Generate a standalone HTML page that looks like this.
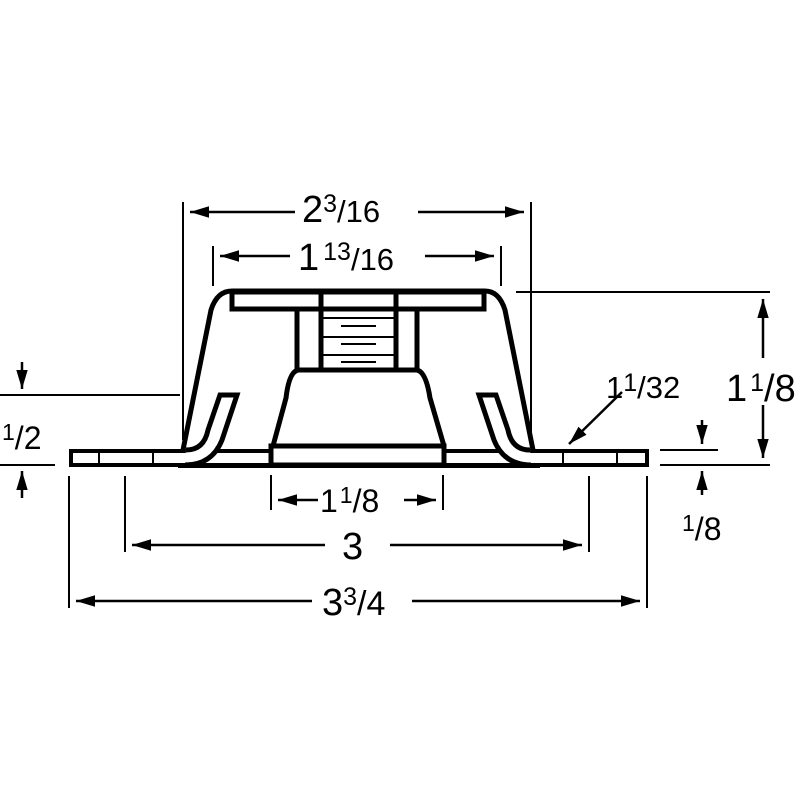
<!DOCTYPE html>
<html><head><style>body{margin:0;background:#fff}svg{display:block}text{font-family:"Liberation Sans",sans-serif;fill:#000}</style></head><body>
<svg width="800" height="800" viewBox="0 0 800 800" xmlns="http://www.w3.org/2000/svg">
<defs><marker id="a" viewBox="0 0 10 10" refX="10" refY="5" markerWidth="19" markerHeight="19" markerUnits="userSpaceOnUse" orient="auto-start-reverse"><path d="M0,2 L10,5 L0,8 Z" fill="#000"/></marker></defs>
<g fill="none" stroke="#000">
<rect x="71" y="451" width="576" height="14" stroke-width="4" fill="#fff"/>
<line x1="99" y1="451" x2="99" y2="465" stroke-width="2"/>
<line x1="153" y1="451" x2="153" y2="465" stroke-width="2"/>
<line x1="563" y1="451" x2="563" y2="465" stroke-width="2"/>
<line x1="617" y1="451" x2="617" y2="465" stroke-width="2"/>
<line x1="178" y1="466" x2="540" y2="466" stroke-width="4"/>
<path d="M183,450 L211,310 Q217,291 232,291 L485,291 Q499,291 505,310 L533,450" stroke-width="5" fill="none"/>
<path d="M186,450 Q204,450 208,430 L220,395 L237,395 L222,440 Q212,465 185,465" stroke-width="5" fill="#fff"/>
<path d="M530,450 Q512,450 508,430 L496,395 L479,395 L494,440 Q504,465 531,465" stroke-width="5" fill="#fff"/>
<rect x="232" y="292" width="252" height="17" stroke-width="5" fill="#fff"/>
<line x1="321" y1="292" x2="321" y2="370" stroke-width="5"/>
<line x1="396" y1="292" x2="396" y2="370" stroke-width="5"/>
<line x1="297" y1="309" x2="297" y2="370" stroke-width="5"/>
<line x1="417" y1="309" x2="417" y2="370" stroke-width="5"/>
<line x1="321" y1="318" x2="396" y2="318" stroke-width="2"/>
<line x1="321" y1="337" x2="396" y2="337" stroke-width="2"/>
<line x1="321" y1="355" x2="396" y2="355" stroke-width="2"/>
<line x1="341" y1="326" x2="376" y2="326" stroke-width="2"/>
<line x1="341" y1="344" x2="376" y2="344" stroke-width="2"/>
<line x1="341" y1="362" x2="376" y2="362" stroke-width="2"/>
<path d="M273,446 L286,398 Q289,372 298,370 L417,370 Q426,372 430,398 L444,446" stroke-width="5" fill="#fff"/>
<rect x="271" y="446" width="173" height="19" stroke-width="5" fill="#fff"/>
<g stroke-width="2">
<line x1="183" y1="202" x2="183" y2="440"/>
<line x1="531" y1="202" x2="531" y2="440"/>
<line x1="213" y1="246" x2="213" y2="286"/>
<line x1="501" y1="246" x2="501" y2="286"/>
<line x1="516" y1="292" x2="770" y2="292"/>
<line x1="660" y1="465" x2="770" y2="465"/>
<line x1="660" y1="450" x2="718" y2="450"/>
<line x1="0" y1="395" x2="180" y2="395"/>
<line x1="0" y1="465" x2="55" y2="465"/>
<line x1="69" y1="476" x2="69" y2="608"/>
<line x1="647" y1="476" x2="647" y2="608"/>
<line x1="125" y1="476" x2="125" y2="552"/>
<line x1="589" y1="476" x2="589" y2="552"/>
<line x1="271" y1="475" x2="271" y2="510"/>
<line x1="443" y1="475" x2="443" y2="510"/>
</g>
<g stroke-width="2.5">
<line x1="190" y1="212" x2="295" y2="212" marker-start="url(#a)"/>
<line x1="418" y1="212" x2="524" y2="212" marker-end="url(#a)"/>
<line x1="220" y1="256" x2="290" y2="256" marker-start="url(#a)"/>
<line x1="425" y1="256" x2="494" y2="256" marker-end="url(#a)"/>
<line x1="763" y1="299" x2="763" y2="358" marker-start="url(#a)"/>
<line x1="763" y1="405" x2="763" y2="458" marker-end="url(#a)"/>
<line x1="22" y1="362" x2="22" y2="389" marker-end="url(#a)"/>
<line x1="22" y1="498" x2="22" y2="471" marker-end="url(#a)"/>
<line x1="702" y1="420" x2="702" y2="444" marker-end="url(#a)"/>
<line x1="702" y1="495" x2="702" y2="471" marker-end="url(#a)"/>
<line x1="278" y1="500" x2="318" y2="500" marker-start="url(#a)"/>
<line x1="404" y1="500" x2="436" y2="500" marker-end="url(#a)"/>
<line x1="132" y1="545" x2="325" y2="545" marker-start="url(#a)"/>
<line x1="390" y1="545" x2="582" y2="545" marker-end="url(#a)"/>
<line x1="76" y1="601" x2="312" y2="601" marker-start="url(#a)"/>
<line x1="412" y1="601" x2="640" y2="601" marker-end="url(#a)"/>
<line x1="622" y1="392" x2="569" y2="444" marker-end="url(#a)"/>
</g>
</g>
<g font-size="38">
<text x="302" y="222">2<tspan font-size="25" dy="-10">3</tspan><tspan font-size="31" dy="10">/16</tspan></text>
<text x="298" y="270">1<tspan font-size="25" dy="-10" dx="4">13</tspan><tspan font-size="31" dy="10">/16</tspan></text>
<text x="726" y="401">1<tspan font-size="25" dy="-10" dx="3">1</tspan><tspan font-size="38" dy="10">/8</tspan></text>
<text x="2" y="449" font-size="32"><tspan font-size="23" dy="-9">1</tspan><tspan dy="9">/2</tspan></text>
<text x="682" y="540" font-size="32"><tspan font-size="23" dy="-9">1</tspan><tspan dy="9">/8</tspan></text>
<text x="606" y="398" font-size="31">1<tspan font-size="25" dy="-7">1</tspan><tspan dy="7">/32</tspan></text>
<text x="320" y="512" font-size="32">1<tspan font-size="23" dy="-9" dx="2">1</tspan><tspan dy="9">/8</tspan></text>
<text x="342" y="559">3</text>
<text x="322" y="615">3<tspan font-size="25" dy="-10">3</tspan><tspan font-size="34" dy="10">/4</tspan></text>
</g>
</svg>
</body></html>
